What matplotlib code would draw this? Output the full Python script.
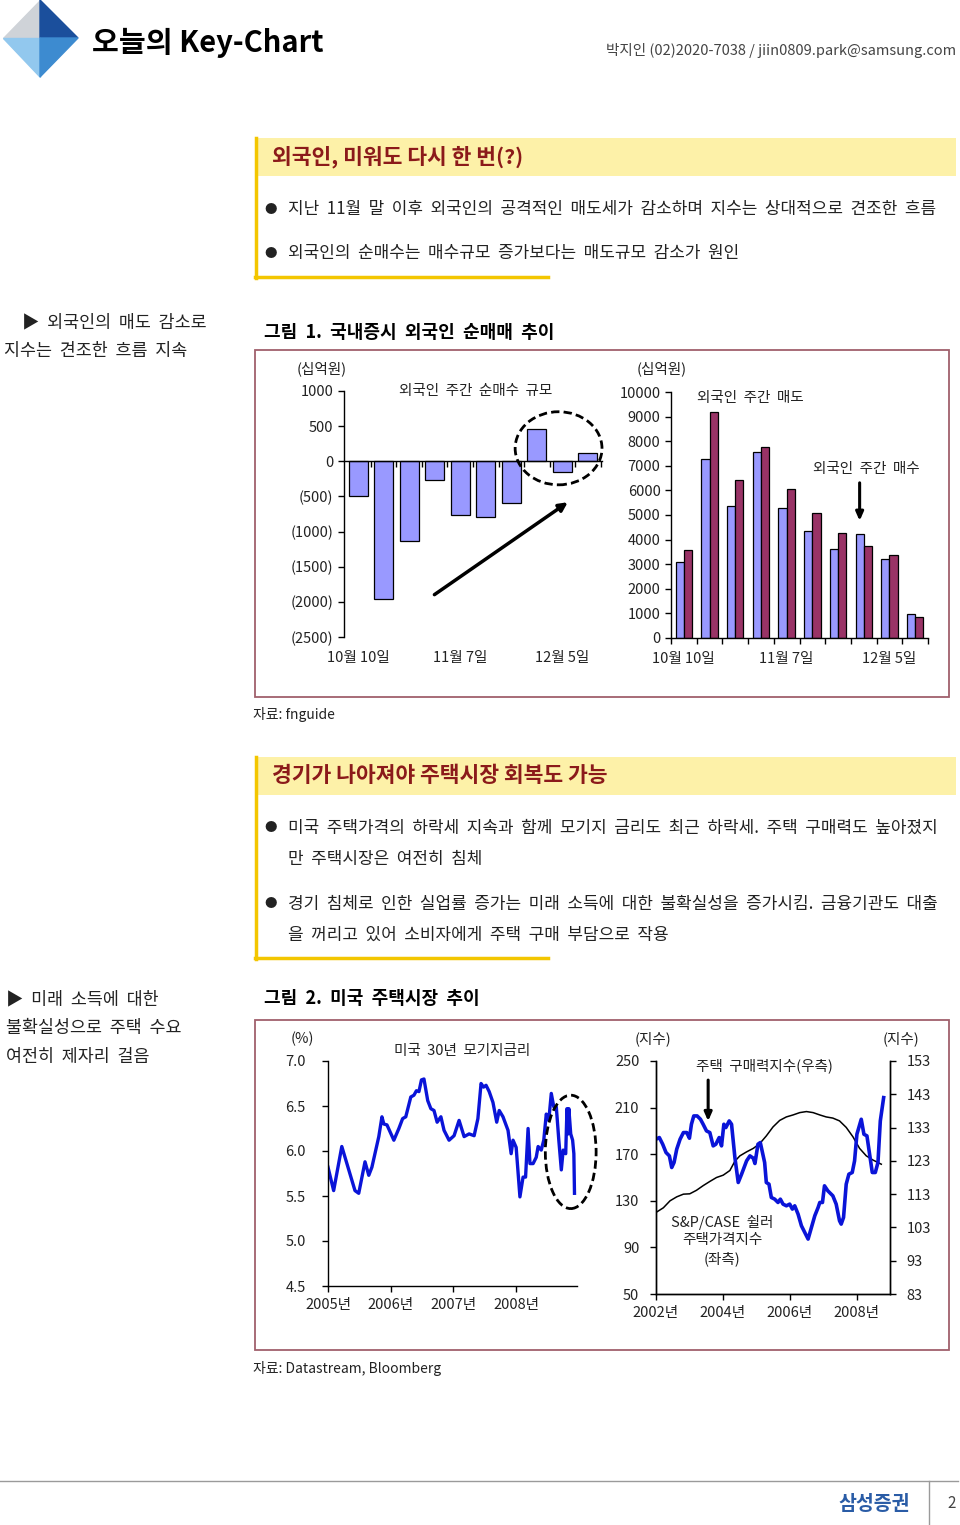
import matplotlib
matplotlib.use("Agg")
from matplotlib import pyplot as plt
from matplotlib.patches import Rectangle, Ellipse, Polygon

plt.rcParams['font.family'] = ['Noto Sans CJK KR', 'DejaVu Sans']
plt.rcParams['axes.unicode_minus'] = False

W, H = 960, 1525

# ---- 그림 1 data (십억원) ----
week_labels = ['10월 10일', '10월 17일', '10월 24일', '10월 31일', '11월 7일',
               '11월 14일', '11월 21일', '11월 28일', '12월 5일', '12월 12일']
shown_weeks = [0, 4, 8]
net_buy = [-500, -1960, -1130, -260, -770, -790, -600, 460, -150, 120]
weekly_buy = [3080, 7270, 5380, 7550, 5270, 4365, 3635, 4215, 3200, 960]
weekly_sell = [3580, 9175, 6430, 7780, 6040, 5095, 4270, 3760, 3365, 850]

# ---- 그림 2 data ----
mort_t = [2005.00, 2005.09, 2005.22, 2005.43, 2005.49, 2005.59, 2005.65, 2005.70,
          2005.81, 2005.86, 2005.89, 2005.94, 2006.05, 2006.13, 2006.19, 2006.24,
          2006.32, 2006.37, 2006.41, 2006.45, 2006.49, 2006.53, 2006.59, 2006.64,
          2006.69, 2006.74, 2006.80, 2006.85, 2006.93, 2007.01, 2007.09, 2007.17,
          2007.25, 2007.33, 2007.39, 2007.44, 2007.48, 2007.52, 2007.57, 2007.63,
          2007.69, 2007.73, 2007.79, 2007.87, 2007.92, 2007.95, 2008.00, 2008.06,
          2008.11, 2008.15, 2008.19, 2008.22, 2008.27, 2008.32, 2008.35, 2008.40,
          2008.44, 2008.48, 2008.52, 2008.56, 2008.60, 2008.64, 2008.68, 2008.72,
          2008.75, 2008.79, 2008.81, 2008.83, 2008.84, 2008.87, 2008.90, 2008.92,
          2008.93]
mort_v = [5.82, 5.56, 6.05, 5.56, 5.53, 5.88, 5.73, 5.82,
          6.16, 6.38, 6.30, 6.29, 6.12, 6.25, 6.36, 6.38,
          6.60, 6.62, 6.67, 6.66, 6.79, 6.80, 6.56, 6.47,
          6.45, 6.32, 6.38, 6.23, 6.12, 6.17, 6.34, 6.16,
          6.19, 6.17, 6.36, 6.75, 6.71, 6.73, 6.66, 6.54,
          6.32, 6.45, 6.38, 6.23, 5.97, 6.12, 6.04, 5.49,
          5.71, 5.71, 6.25, 5.86, 5.86, 5.93, 6.05, 6.01,
          6.12, 6.41, 6.34, 6.64, 6.49, 6.49, 6.12, 5.79,
          6.01, 5.97, 6.47, 6.19, 6.47, 6.19, 6.12, 5.97,
          5.53]
year_ticks_1 = [2005, 2006, 2007, 2008]

cs_t = [2002.00, 2002.22, 2002.42, 2002.62, 2002.82, 2003.01, 2003.21, 2003.41,
        2003.61, 2003.81, 2004.01, 2004.21, 2004.36, 2004.51, 2004.71, 2004.91,
        2005.10, 2005.30, 2005.50, 2005.70, 2005.90, 2006.10, 2006.30, 2006.50,
        2006.70, 2006.90, 2007.09, 2007.29, 2007.49, 2007.69, 2007.89, 2008.09,
        2008.29, 2008.49, 2008.74]
cs_v = [120, 124, 130, 133.4, 135.7, 136, 139, 143,
        146.6, 150, 152, 156, 164, 168.6, 172, 175,
        179, 185.7, 193.4, 199, 202, 203.7, 205.7, 206.6,
        205.7, 203.7, 202, 201, 198.6, 193, 185, 175,
        168.6, 165, 161.4]

aff_t = [2002.00, 2002.10, 2002.20, 2002.30, 2002.40, 2002.47, 2002.54, 2002.62,
         2002.72, 2002.82, 2002.92, 2003.00, 2003.06, 2003.13, 2003.23, 2003.33,
         2003.41, 2003.51, 2003.61, 2003.71, 2003.79, 2003.89, 2003.96, 2004.03,
         2004.09, 2004.19, 2004.26, 2004.36, 2004.46, 2004.56, 2004.71, 2004.81,
         2004.91, 2004.96, 2005.05, 2005.12, 2005.25, 2005.30, 2005.38, 2005.45,
         2005.55, 2005.65, 2005.72, 2005.80, 2005.90, 2006.00, 2006.08, 2006.15,
         2006.25, 2006.35, 2006.45, 2006.55, 2006.65, 2006.75, 2006.85, 2006.90,
         2006.98, 2007.04, 2007.14, 2007.29, 2007.39, 2007.49, 2007.54, 2007.61,
         2007.69, 2007.77, 2007.87, 2007.94, 2008.01, 2008.14, 2008.22, 2008.31,
         2008.39, 2008.47, 2008.56, 2008.64, 2008.71, 2008.81]
aff_v = [129.5, 130, 128, 125.5, 124.5, 121, 122.5, 126.5,
         129.5, 131.5, 131.5, 129.8, 134, 136.5, 136.5, 135.5,
         134, 132, 131.5, 127.5, 128, 130, 127.5, 134,
         133, 135, 134, 124, 116.5, 119, 123, 124.5,
         123.8, 122.2, 128, 128.5, 122.5, 116.5, 116, 112,
         111.5, 110.5, 111.5, 110, 109.5, 110, 108.5, 109.5,
         107, 103.5, 101.5, 99.5, 103, 106.5, 109, 110.5,
         110.5, 115.5, 114, 112.5, 110, 105, 104, 106,
         116, 119, 119.5, 123, 131, 135.5, 131, 130.5,
         125, 119.5, 119.5, 122.5, 135, 142]
year_ticks_2 = [2002, 2004, 2006, 2008]

BAR_BLUE = '#9999ff'
BAR_RED = '#993366'
LINE_BLUE = '#0a14d8'
FRAME = '#a0606c'
YELLOW_BAND = '#fdf1a8'
YELLOW_LINE = '#f3c600'
TITLE_RED = '#8b1a1a'
TXT = '#222222'
TICK_FS = 10.5

fig = plt.figure(figsize=(W / 100, H / 100), dpi=100)
page = fig.add_axes([0, 0, 1, 1])
page.set_xlim(0, W)
page.set_ylim(H, 0)
page.axis('off')


def wide(s):
    # the original layout uses a wide word space
    return s.replace(' ', '  ')


def put(x, y, s, size=12, **kw):
    kw.setdefault('va', 'center')
    kw.setdefault('color', TXT)
    page.text(x, y, s, fontsize=size, **kw)


def px_axes(x0, y0, x1, y1):
    return fig.add_axes([x0 / W, 1 - y1 / H, (x1 - x0) / W, (y1 - y0) / H])


def style_axis(ax):
    ax.tick_params(labelsize=TICK_FS, colors='black', labelcolor=TXT, width=1, length=4)
    for s in ax.spines.values():
        s.set_linewidth(1)


def under_labels(ax, xs, labels, offset=-15):
    for x, lab in zip(xs, labels):
        ax.annotate(lab, xy=(x, 0), xycoords=ax.get_xaxis_transform(),
                    xytext=(0, offset), textcoords='offset points',
                    ha='center', va='center', fontsize=TICK_FS, color=TXT,
                    annotation_clip=False)


# ---- header ----
cx, cy = 40, 38
top, right, bottom, left = (40, 0), (78, 38), (40, 77), (3, 38)
page.add_patch(Polygon([top, (cx, cy), left], closed=True, color='#cfd3d8'))
page.add_patch(Polygon([top, right, (cx, cy)], closed=True, color='#1b4f9c'))
page.add_patch(Polygon([left, (cx, cy), bottom], closed=True, color='#92c8ee'))
page.add_patch(Polygon([(cx, cy), right, bottom], closed=True, color='#3d8bd0'))
put(92, 43, '오늘의 Key-Chart', size=21, weight='bold', color='black')
put(956, 50, '박지인 (02)2020-7038 / jiin0809.park@samsung.com', size=10.5,
    ha='right', color='#444444')

BODY = 12.2
SIDE = 12.5

# ---- text box 1 ----
page.add_patch(Rectangle((255, 138), 701, 38, color=YELLOW_BAND, lw=0))
page.plot([255.5, 255.5], [138, 278], color=YELLOW_LINE, lw=2.5)
page.plot([255, 548], [276.5, 276.5], color=YELLOW_LINE, lw=2.5)
put(272, 157, '외국인, 미워도 다시 한 번(?)', size=15.5, weight='bold', color=TITLE_RED)
put(264, 209, '●', size=9)
put(288, 209, wide('지난 11월 말 이후 외국인의 공격적인 매도세가 감소하며 지수는 상대적으로 견조한 흐름'), size=BODY)
put(264, 253, '●', size=9)
put(288, 253, wide('외국인의 순매수는 매수규모 증가보다는 매도규모 감소가 원인'), size=BODY)

put(22, 322, wide('▶ 외국인의 매도 감소로'), size=SIDE)
put(4, 351, wide('지수는 견조한 흐름 지속'), size=SIDE)
put(264, 333, wide('그림 1. 국내증시 외국인 순매매 추이'), size=13, weight='bold', color='black')
page.add_patch(Rectangle((255, 350), 694, 347, fill=False, ec=FRAME, lw=1.3))
put(253, 714, '자료: fnguide', size=10)

# ---- text box 2 ----
page.add_patch(Rectangle((255, 757), 701, 38, color=YELLOW_BAND, lw=0))
page.plot([255.5, 255.5], [757, 959], color=YELLOW_LINE, lw=2.5)
page.plot([255, 548], [957.5, 957.5], color=YELLOW_LINE, lw=2.5)
put(272, 776, '경기가 나아져야 주택시장 회복도 가능', size=15.5, weight='bold', color=TITLE_RED)
put(264, 828, '●', size=9)
put(288, 828, wide('미국 주택가격의 하락세 지속과 함께 모기지 금리도 최근 하락세. 주택 구매력도 높아졌지'), size=BODY)
put(288, 859, wide('만 주택시장은 여전히 침체'), size=BODY)
put(264, 904, '●', size=9)
put(288, 904, wide('경기 침체로 인한 실업률 증가는 미래 소득에 대한 불확실성을 증가시킴. 금융기관도 대출'), size=BODY)
put(288, 935, wide('을 꺼리고 있어 소비자에게 주택 구매 부담으로 작용'), size=BODY)

put(6, 999, wide('▶ 미래 소득에 대한'), size=SIDE)
put(6, 1028, wide('불확실성으로 주택 수요'), size=SIDE)
put(6, 1057, wide('여전히 제자리 걸음'), size=SIDE)
put(264, 999, wide('그림 2. 미국 주택시장 추이'), size=13, weight='bold', color='black')
page.add_patch(Rectangle((255, 1020), 694, 330, fill=False, ec=FRAME, lw=1.3))
put(253, 1368, '자료: Datastream, Bloomberg', size=10)

# ---- footer ----
page.plot([0, 958], [1480.5, 1480.5], color='#9a9a9a', lw=1)
page.plot([929, 929], [1481, 1525], color='#9a9a9a', lw=1)
put(910, 1504, '삼성증권', size=14, weight='bold', ha='right', color='#2a5ca6')
put(952, 1503, '2', size=11, ha='center', color='#444444')

# ---- 그림 1 left: net buying ----
ax1 = px_axes(344, 391, 602, 637)
x1 = list(range(len(net_buy)))
ax1.bar(x1, net_buy, width=0.74, color=BAR_BLUE, edgecolor='black', lw=0.9, zorder=2)
ax1.set_xlim(-0.55, 9.55)
ax1.set_ylim(-2500, 1000)
ax1.set_yticks(range(-2500, 1001, 500))
ax1.set_yticklabels([f'({-v})' if v < 0 else f'{v}' for v in range(-2500, 1001, 500)])
ax1.spines['bottom'].set_position(('data', 0))
ax1.spines['top'].set_visible(False)
ax1.spines['right'].set_visible(False)
ax1.set_xticks([i + 0.5 for i in x1])
ax1.set_xticklabels([])
style_axis(ax1)
ax1.patch.set_alpha(0)
under_labels(ax1, shown_weeks, [week_labels[i] for i in shown_weeks])
ax1.text(4.6, 1000, wide('외국인 주간 순매수 규모'), ha='center', va='center', fontsize=TICK_FS, color=TXT)
ax1.add_patch(Ellipse((7.85, 185), 3.4, 1040, fill=False, ls=(0, (3, 1.5)), lw=2,
                      ec='black', clip_on=False, zorder=3))
ax1.annotate('', xy=(8.3, -560), xytext=(2.9, -1920),
             arrowprops=dict(arrowstyle='-|>,head_length=0.5,head_width=0.25', color='black', lw=2.5))
put(322, 369, '(십억원)', size=TICK_FS, ha='center')

# ---- 그림 1 right: weekly buy / sell ----
ax2 = px_axes(671, 392, 928, 638)
bw = 0.32
ax2.bar([i - bw / 2 for i in x1], weekly_buy, width=bw, color=BAR_BLUE, edgecolor='black', lw=0.9)
ax2.bar([i + bw / 2 for i in x1], weekly_sell, width=bw, color=BAR_RED, edgecolor='black', lw=0.9)
ax2.set_xlim(-0.5, 9.5)
ax2.set_ylim(0, 10000)
ax2.set_yticks(range(0, 10001, 1000))
ax2.set_xticks([i - 0.5 for i in range(len(x1) + 1)])
ax2.set_xticklabels([])
ax2.spines['top'].set_visible(False)
ax2.spines['right'].set_visible(False)
style_axis(ax2)
ax2.patch.set_alpha(0)
under_labels(ax2, shown_weeks, [week_labels[i] for i in shown_weeks])
ax2.text(2.57, 9750, wide('외국인 주간 매도'), ha='center', va='center', fontsize=TICK_FS, color=TXT)
ax2.text(7.1, 6870, wide('외국인 주간 매수'), ha='center', va='center', fontsize=TICK_FS, color=TXT)
ax2.annotate('', xy=(6.84, 4650), xytext=(6.84, 6420),
             arrowprops=dict(arrowstyle='-|>,head_length=0.5,head_width=0.22', color='black', lw=2.2))
put(662, 369, '(십억원)', size=TICK_FS, ha='center')

# ---- 그림 2 left: mortgage rate ----
ax3 = px_axes(328, 1061, 577, 1286)
ax3.plot(mort_t, mort_v, color=LINE_BLUE, lw=2.4, solid_joinstyle='round')
ax3.set_xlim(2005, 2008.97)
ax3.set_ylim(4.5, 7.0)
ax3.set_yticks([4.5, 5.0, 5.5, 6.0, 6.5, 7.0])
ax3.set_yticklabels([f'{v:.1f}' for v in [4.5, 5.0, 5.5, 6.0, 6.5, 7.0]])
ax3.set_xticks(year_ticks_1)
ax3.set_xticklabels([f'{y}년' for y in year_ticks_1])
ax3.spines['top'].set_visible(False)
ax3.spines['right'].set_visible(False)
style_axis(ax3)
ax3.tick_params(axis='y', pad=12)
ax3.tick_params(axis='x', pad=5)
ax3.patch.set_alpha(0)
ax3.text(2007.14, 7.11, wide('미국 30년 모기지금리'), ha='center', va='center', fontsize=TICK_FS, color=TXT)
ax3.add_patch(Ellipse((2008.87, 5.99), 0.81, 1.26, fill=False, ls=(0, (3, 1.5)), lw=2,
                      ec='black', clip_on=False, zorder=3))
put(302, 1039, '(%)', size=TICK_FS, ha='center')

# ---- 그림 2 right: Case-Shiller & affordability ----
ax4 = px_axes(656, 1061, 890, 1294)
ax4.plot(cs_t, cs_v, color='black', lw=1.1)
ax4.set_xlim(2002, 2009)
ax4.set_ylim(50, 250)
ax4.set_yticks(range(50, 251, 40))
ax4.set_xticks(year_ticks_2)
ax4.set_xticklabels([f'{y}년' for y in year_ticks_2])
ax4.spines['top'].set_visible(False)
style_axis(ax4)
ax4.tick_params(axis='y', pad=8)
ax4.tick_params(axis='x', pad=5)
ax5 = ax4.twinx()
ax5.plot(aff_t, aff_v, color=LINE_BLUE, lw=2.6, solid_joinstyle='round')
ax5.set_ylim(83, 153)
ax5.set_yticks(range(83, 154, 10))
ax5.spines['top'].set_visible(False)
style_axis(ax5)
ax5.tick_params(axis='y', pad=8)
ax4.patch.set_alpha(0)
ax4.text(2005.23, 246, wide('주택 구매력지수(우측)'), ha='center', va='center', fontsize=TICK_FS, color=TXT)
ax4.annotate('', xy=(2003.56, 196), xytext=(2003.56, 236),
             arrowprops=dict(arrowstyle='-|>,head_length=0.5,head_width=0.22', color='black', lw=2.2))
ax4.text(2003.98, 96, wide('S&P/CASE 쉴러') + '\n주택가격지수\n(좌측)', ha='center', va='center',
         fontsize=TICK_FS, color=TXT, linespacing=1.3)
put(653, 1039, '(지수)', size=TICK_FS, ha='center')
put(901, 1039, '(지수)', size=TICK_FS, ha='center')

fig.savefig('out.png', dpi=100)
